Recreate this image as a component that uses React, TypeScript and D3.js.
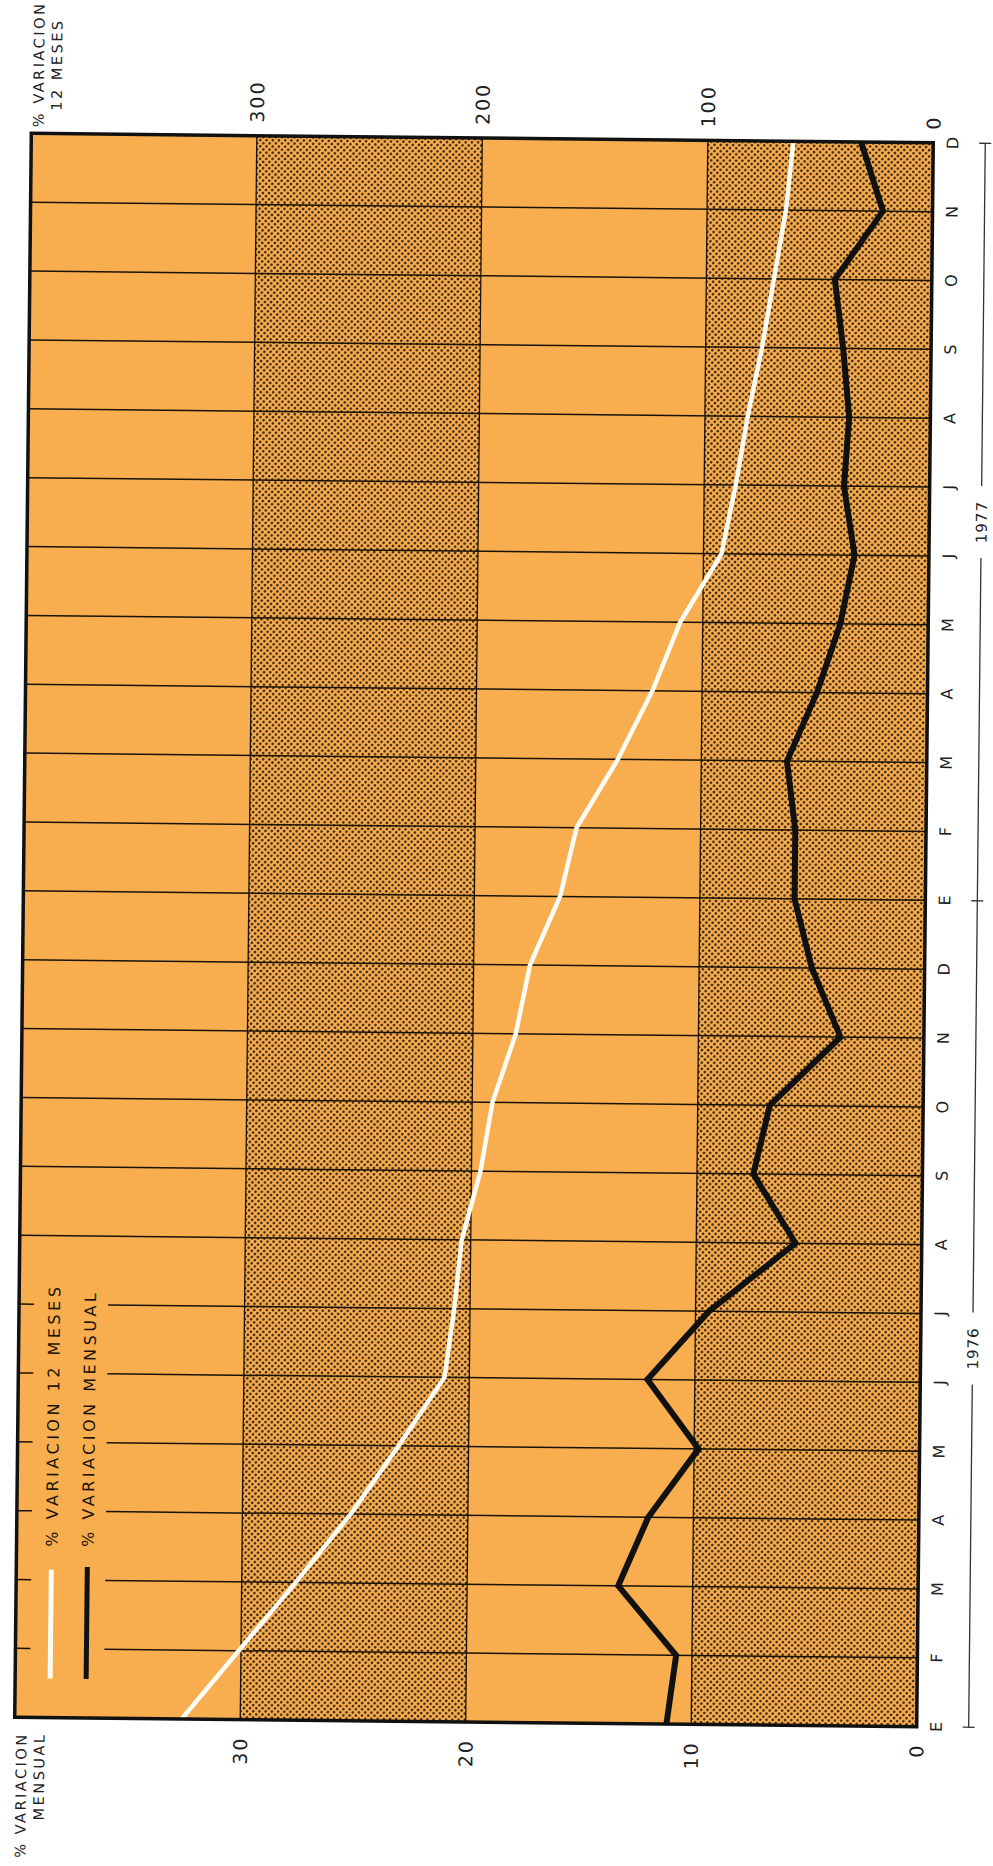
import React from 'react';
import * as d3 from 'd3';

// ---- data ----
const months = ['E','F','M','A','M','J','J','A','S','O','N','D','E','F','M','A','M','J','J','A','S','O','N','D'];
const years = [{ label: '1976', mid: 5.5 }, { label: '1977', mid: 17.5 }];
const mensual = [11.1, 10.7, 13.3, 12.0, 9.8, 12.1, 9.4, 5.6, 7.5, 6.8, 3.7, 5.0, 5.8, 5.8, 6.2, 4.9, 3.9, 3.3, 3.8, 3.6, 3.9, 4.3, 2.2, 3.2];
const doceMeses = [326, 301, 276, 252, 231, 211, 207, 204, 196, 191, 181, 175, 162, 155, 137, 122, 110, 92, 86, 81, 75, 70, 65, 62];
const leftTicks = [0, 10, 20, 30];
const rightTicks = [0, 100, 200, 300];
const bandStarts = [0, 10, 20, 30];
const stippled = [true, false, true, false];
const legendItems = ['% VARIACION 12 MESES', '% VARIACION MENSUAL'];
const leftTitle = ['% VARIACION', 'MENSUAL'];
const rightTitle = ['% VARIACION', '12 MESES'];

const W = 993;
const H = 1866;
const ORANGE = '#F8AE4E';
const FONT = '"DejaVu Sans", sans-serif';

export default function App() {
  // local (unrotated chart) coordinates: u = time axis, v = value axis (down)
  const x = d3.scaleLinear().domain([0, months.length - 1]).range([144, 1728]);
  const y = d3.scaleLinear().domain([0, 40]).range([925, 23]);
  const y2 = d3.scaleLinear().domain([0, 400]).range([925, 23]);

  const lineM = d3.line<number>().x((_, i) => x(i)).y((d) => y(d));
  const line12 = d3.line<number>().x((_, i) => x(i)).y((d) => y2(d));

  const [u0, u1] = x.range();
  const vTop = y(40);
  const vBot = y(0);

  const legendMonths = new Set([1, 2, 3, 4, 5, 6]);
  const legendV = [58, 94];

  const bracketV = 977;
  const yearGap = 36;

  return (
    <svg width={W} height={H} style={{ position: 'absolute', left: 0, top: 0, background: '#fff' }}>
      <defs>
        <pattern id="dots" width="4.4" height="4.4" patternUnits="userSpaceOnUse" patternTransform="rotate(45)">
          <rect width="4.4" height="4.4" fill={ORANGE} />
          <circle cx="2.2" cy="2.2" r="1.35" fill="#3a2510" />
        </pattern>
      </defs>
      <g transform="rotate(0.6, 474, 930)">
        <g transform={`translate(0, ${H}) rotate(-90)`} fontFamily={FONT}>
          {/* bands */}
          {bandStarts.map((b, i) => (
            <rect key={'b' + i} x={u0} width={u1 - u0} y={y(b + 10)} height={y(b) - y(b + 10)}
              fill={stippled[i] ? 'url(#dots)' : ORANGE} />
          ))}
          {/* value grid lines */}
          {[10, 20, 30].map((t) => (
            <line key={'g' + t} x1={u0} x2={u1} y1={y(t)} y2={y(t)} stroke="#1a1208" strokeWidth={1.3} />
          ))}
          {/* month lines */}
          {months.map((m, i) => {
            if (i === 0 || i === months.length - 1) return null;
            if (legendMonths.has(i)) {
              return (
                <g key={'m' + i}>
                  <line x1={x(i)} x2={x(i)} y1={112} y2={vBot} stroke="#1a1208" strokeWidth={1.5} />
                  <line x1={x(i)} x2={x(i)} y1={vTop} y2={38} stroke="#1a1208" strokeWidth={1.5} />
                </g>
              );
            }
            return <line key={'m' + i} x1={x(i)} x2={x(i)} y1={vTop} y2={vBot} stroke="#1a1208" strokeWidth={1.5} />;
          })}
          {/* legend */}
          <line x1={183} x2={292} y1={legendV[0]} y2={legendV[0]} stroke="#fcfcf4" strokeWidth={5} />
          <line x1={183} x2={295} y1={legendV[1]} y2={legendV[1]} stroke="#111" strokeWidth={5} />
          {legendItems.map((t, i) => (
            <text key={'l' + i} x={315} y={legendV[i] + 6} fontSize={16} letterSpacing={3.5} fill="#1a1208">{t}</text>
          ))}
          {/* data lines */}
          <path d={line12(doceMeses) || ''} fill="none" stroke="#fcfcf4" strokeWidth={4.5} strokeLinejoin="round" />
          <path d={lineM(mensual) || ''} fill="none" stroke="#111" strokeWidth={6} strokeLinejoin="miter" />
          {/* frame */}
          <rect x={u0} y={vTop} width={u1 - u0} height={vBot - vTop} fill="none" stroke="#111" strokeWidth={3.5} />
          {/* month labels */}
          {months.map((m, i) => (
            <text key={'ml' + i} x={x(i)} y={950} textAnchor="middle" fontSize={16} fill="#222">{m}</text>
          ))}
          {/* year bracket */}
          <line x1={u0} x2={x(years[0].mid) - yearGap} y1={bracketV} y2={bracketV} stroke="#333" strokeWidth={1.3} />
          <line x1={x(years[0].mid) + yearGap} x2={x(years[1].mid) - yearGap} y1={bracketV} y2={bracketV} stroke="#333" strokeWidth={1.3} />
          <line x1={x(years[1].mid) + yearGap} x2={u1} y1={bracketV} y2={bracketV} stroke="#333" strokeWidth={1.3} />
          {[0, 12, months.length - 1].map((i) => (
            <line key={'bt' + i} x1={x(i)} x2={x(i)} y1={bracketV - 6} y2={bracketV + 6} stroke="#333" strokeWidth={1.3} />
          ))}
          {years.map((yr) => (
            <text key={yr.label} x={x(yr.mid)} y={bracketV + 5.5} textAnchor="middle" fontSize={15} letterSpacing={1} fill="#222">{yr.label}</text>
          ))}
          {/* left axis (monthly) labels */}
          {leftTicks.map((t) => (
            <text key={'lt' + t} x={127} y={y(t) + 7} textAnchor="end" fontSize={19} letterSpacing={2} fill="#222">{t}</text>
          ))}
          {/* right axis (12 months) labels */}
          {rightTicks.map((t) => (
            <text key={'rt' + t} x={1741} y={y2(t) + 7} textAnchor="start" fontSize={19} letterSpacing={2} fill="#222">{t}</text>
          ))}
          {/* titles */}
          {leftTitle.map((t, i) => (
            <text key={'tl' + i} x={129} y={35 + i * 18} textAnchor="end" fontSize={14.5} letterSpacing={2.5} fill="#222">{t}</text>
          ))}
          {rightTitle.map((t, i) => (
            <text key={'tr' + i} x={1797} y={35 + i * 18} textAnchor="middle" fontSize={14.5} letterSpacing={2.5} fill="#222">{t}</text>
          ))}
        </g>
      </g>
    </svg>
  );
}
